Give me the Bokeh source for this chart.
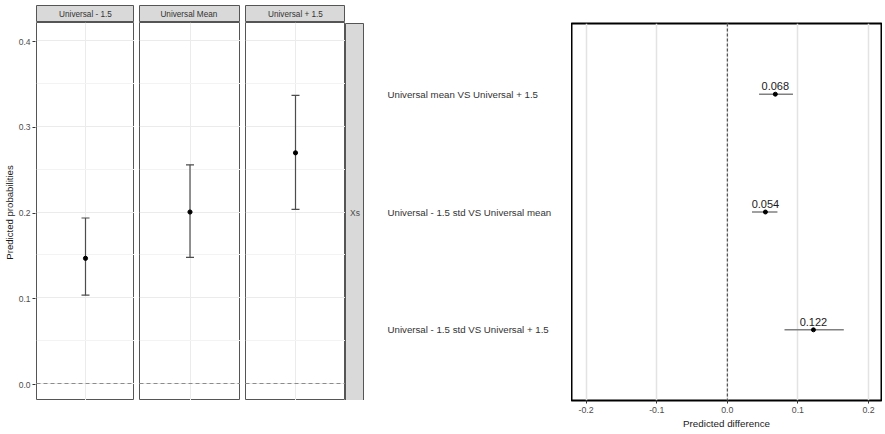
from bokeh.plotting import figure
from bokeh.layouts import row, column
from bokeh.models import (FactorRange, Range1d, ColumnDataSource, Whisker, TeeHead, Span,
                          FixedTicker, PrintfTickFormatter)
from bokeh.core.properties import value
from bokeh.embed import file_html
from bokeh.resources import INLINE

FONT = "Liberation Sans"

# ---- left chart: predicted probabilities by facet ----
facets = ["Universal - 1.5", "Universal  Mean", "Universal + 1.5"]
prob_est = [0.146, 0.200, 0.269]
prob_lower = [0.103, 0.147, 0.203]
prob_upper = [0.193, 0.255, 0.336]
prob_ticks = [0.0, 0.1, 0.2, 0.3, 0.4]
prob_minor = [0.05, 0.15, 0.25, 0.35]
prob_range = (-0.0198, 0.421)
prob_ref = 0.0
strip_label = "Xs"
y_label = "Predicted probabilities"

# ---- right chart: predicted differences ----
comparisons = ["Universal mean VS Universal + 1.5",
               "Universal - 1.5 std VS Universal mean",
               "Universal - 1.5 std VS Universal + 1.5"]  # top to bottom
diff_est = [0.068, 0.054, 0.122]
diff_lower = [0.045, 0.035, 0.081]
diff_upper = [0.093, 0.071, 0.165]
diff_ticks = [-0.2, -0.1, 0.0, 0.1, 0.2]
diff_range = (-0.2207, 0.2184)
diff_ref = 0.0
x_label = "Predicted difference"

BORDER = "#555555"
STRIP = "#d9d9d9"
panel_widths = [98, 101, 100]
HEAD_TOP, HEAD_H, PANEL_H = 5, 17, 378

y_rng = Range1d(*prob_range)

# y axis in its own narrow figure, frame aligned with the panels
axf = figure(x_range=Range1d(0, 1), y_range=y_rng, frame_width=1, frame_height=PANEL_H,
             x_axis_location=None, y_axis_location="left",
             min_border_left=0, min_border_right=0, min_border_top=HEAD_TOP + HEAD_H,
             min_border_bottom=0, outline_line_color=None,
             output_backend="svg", toolbar_location=None)
axf.grid.visible = False
ax = axf.yaxis[0]
ax.ticker = FixedTicker(ticks=prob_ticks)
ax.formatter = PrintfTickFormatter(format="%.1f")
ax.axis_label = y_label
ax.axis_label_text_font = FONT
ax.axis_label_text_font_size = "9.6px"
ax.axis_label_text_font_style = "normal"
ax.axis_label_text_color = "#1a1a1a"
ax.axis_label_standoff = 1
ax.major_label_text_font = FONT
ax.major_label_text_font_size = "8.5px"
ax.major_label_text_color = "#4d4d4d"
ax.major_label_standoff = 2
ax.major_tick_out = 3
ax.major_tick_in = 0
ax.major_tick_line_color = "#333333"
ax.minor_tick_line_color = None
ax.axis_line_color = None

facet_cols = []
for i, name in enumerate(facets):
    lb = 0 if i == 0 else 5
    h = figure(x_range=Range1d(0, 1), y_range=Range1d(0, 1), frame_width=panel_widths[i],
               frame_height=HEAD_H, x_axis_location=None, y_axis_location=None,
               min_border_left=lb, min_border_right=0, min_border_top=HEAD_TOP, min_border_bottom=0,
               background_fill_color=STRIP, outline_line_color=BORDER, outline_line_width=1,
               output_backend="svg", toolbar_location=None)
    h.grid.visible = False
    h.text(x=0.5, y=0.5, text=[name], text_align="center", text_baseline="middle",
           text_font=value(FONT), text_font_size="8.2px", text_color="#333333")

    p = figure(x_range=FactorRange(factors=[name]), y_range=y_rng, frame_width=panel_widths[i],
               frame_height=PANEL_H, x_axis_location=None, y_axis_location=None,
               min_border_left=lb, min_border_right=0, min_border_top=0, min_border_bottom=0,
               outline_line_color=BORDER, outline_line_width=1,
               output_backend="svg", toolbar_location=None)
    p.ygrid.ticker = FixedTicker(ticks=prob_ticks, minor_ticks=prob_minor)
    p.ygrid.grid_line_color = "#ebebeb"
    p.ygrid.minor_grid_line_color = "#f3f3f3"
    p.xgrid.grid_line_color = "#ebebeb"
    src = ColumnDataSource(dict(x=[name], est=[prob_est[i]], lo=[prob_lower[i]], hi=[prob_upper[i]]))
    wk = Whisker(source=src, base="x", lower="lo", upper="hi", dimension="height",
                 line_color="#4d4d4d", line_width=1.2, level="underlay",
                 upper_head=TeeHead(size=8, line_color="#4d4d4d", line_width=1.2),
                 lower_head=TeeHead(size=8, line_color="#4d4d4d", line_width=1.2))
    p.add_layout(wk)
    p.add_layout(Span(location=prob_ref, dimension="width", line_color="#8c8c8c",
                      line_dash="4 3", line_width=1.2))
    p.scatter("x", "est", source=src, size=4.2, color="black")
    facet_cols.append(column(h, p))

strip = figure(x_range=Range1d(0, 1), y_range=Range1d(0, 1), frame_width=19, frame_height=PANEL_H,
               x_axis_location=None, y_axis_location=None,
               min_border_left=0, min_border_right=0, min_border_top=HEAD_TOP + HEAD_H,
               min_border_bottom=0,
               background_fill_color=STRIP, outline_line_color=BORDER, outline_line_width=1,
               output_backend="svg", toolbar_location=None)
strip.grid.visible = False
strip.text(x=0.5, y=0.5, text=[strip_label], text_align="center", text_baseline="middle",
           text_font=value(FONT), text_font_size="8.5px", text_color="#4d4d4d")

# ---- right chart ----
cat_rng = FactorRange(factors=list(reversed(comparisons)), range_padding=0.1,
                      range_padding_units="absolute")

lab = figure(x_range=Range1d(0, 1), y_range=cat_rng, frame_width=207, frame_height=377,
             x_axis_location=None, y_axis_location=None,
             min_border_left=0, min_border_right=0, min_border_top=23, min_border_bottom=0,
             outline_line_color=None, output_backend="svg", toolbar_location=None)
lab.grid.visible = False
lab.text(x=0, y=comparisons, text=comparisons, x_offset=23, text_align="left",
         text_baseline="middle", text_font=value(FONT), text_font_size="9.7px",
         text_color="#333333")

d = figure(x_range=Range1d(*diff_range), y_range=cat_rng, frame_width=310, frame_height=377,
           y_axis_location=None,
           min_border_left=0, min_border_right=1, min_border_top=23, min_border_bottom=0,
           outline_line_color="black", outline_line_width=2,
           output_backend="svg", toolbar_location=None)
dt = FixedTicker(ticks=diff_ticks)
xa = d.xaxis[0]
xa.ticker = dt
xa.formatter = PrintfTickFormatter(format="%.1f")
xa.axis_label = x_label
xa.axis_label_text_font = FONT
xa.axis_label_text_font_size = "9.8px"
xa.axis_label_text_font_style = "normal"
xa.axis_label_text_color = "#1a1a1a"
xa.axis_label_standoff = 2
xa.major_label_text_font = FONT
xa.major_label_text_font_size = "8.8px"
xa.major_label_text_color = "#4d4d4d"
xa.major_label_standoff = 3
xa.major_tick_out = 3
xa.major_tick_in = 0
xa.major_tick_line_color = "#333333"
xa.minor_tick_line_color = None
xa.axis_line_color = None
d.xgrid.ticker = dt
d.xgrid.grid_line_color = "#e3e3e3"
d.xgrid.grid_line_width = 1.5
d.ygrid.grid_line_color = None
d.add_layout(Span(location=diff_ref, dimension="height", line_color="#333333",
                  line_dash="3 2", line_width=1))

dsrc = ColumnDataSource(dict(y=comparisons, est=diff_est, lo=diff_lower, hi=diff_upper,
                             lbl=[f"{v:.3f}" for v in diff_est]))
d.segment(x0="lo", y0="y", x1="hi", y1="y", source=dsrc, line_color="#808080", line_width=1.5)
d.scatter("est", "y", source=dsrc, size=4, color="black")
d.text("est", "y", text="lbl", source=dsrc, text_align="center", text_baseline="bottom",
       y_offset=-4, text_font=value(FONT), text_font_size="11px", text_color="#1a1a1a")

layout = row(axf, *facet_cols, strip, lab, d)
open("out.html", "w").write(file_html(layout, INLINE))
